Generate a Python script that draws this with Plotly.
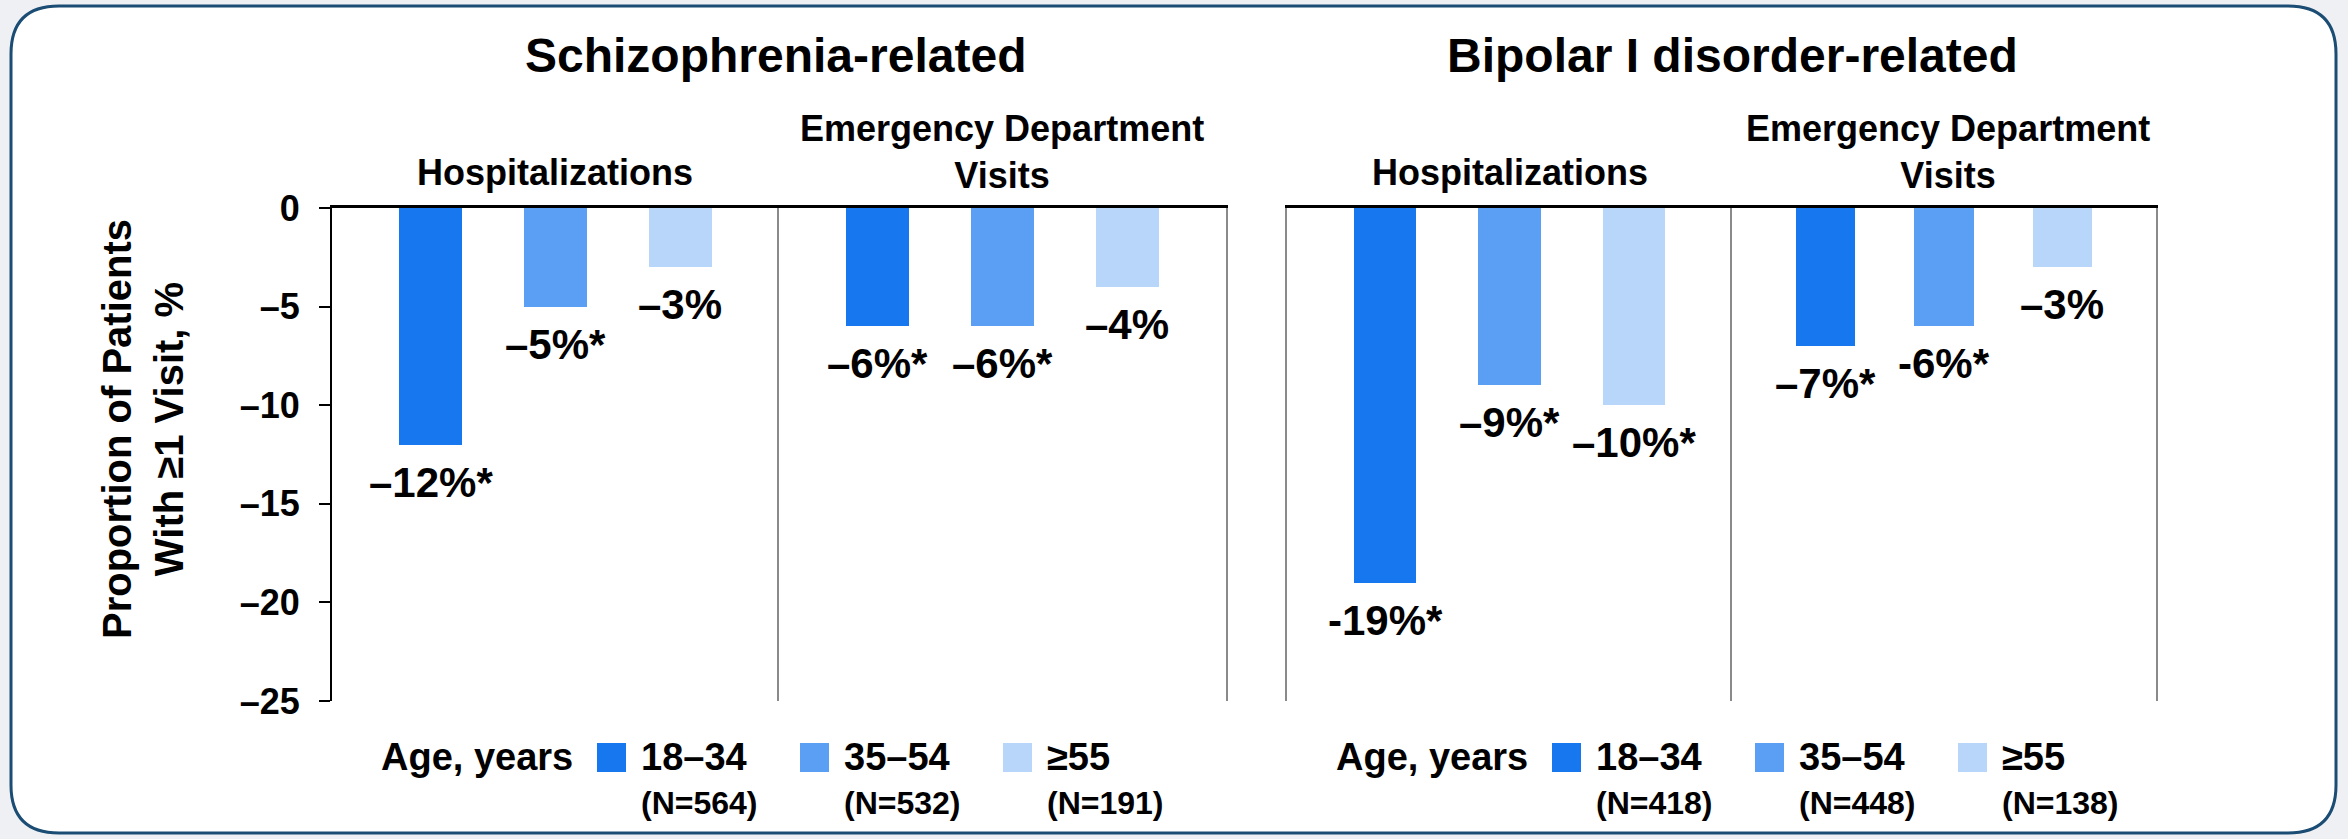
import plotly.graph_objects as go

# figure size in px, paper covers the whole figure (no margins)
W, H = 2348, 839


def fx(p):
    return p / W


def fy(p):
    return 1 - p / H


# ---- data ----
age_groups = ["18–34", "35–54", "≥55"]
bar_colors = ["#1677EF", "#5A9FF4", "#B8D6FA"]

schizo_hosp = [-12, -5, -3]
schizo_ed = [-6, -6, -4]
bipolar_hosp = [-19, -9, -10]
bipolar_ed = [-7, -6, -3]

schizo_hosp_lbl = ["–12%*", "–5%*", "–3%"]
schizo_ed_lbl = ["–6%*", "–6%*", "–4%"]
bipolar_hosp_lbl = ["-19%*", "–9%*", "–10%*"]
bipolar_ed_lbl = ["–7%*", "-6%*", "–3%"]

schizo_n = ["(N=564)", "(N=532)", "(N=191)"]
bipolar_n = ["(N=418)", "(N=448)", "(N=138)"]

y_ticks = [0, -5, -10, -15, -20, -25]
y_ticktext = ["0", "–5", "–10", "–15", "–20", "–25"]

FONT = "Liberation Sans, Arial, sans-serif"

panels = [
    ("x", "y", schizo_hosp, schizo_hosp_lbl, (332, 779)),
    ("x2", "y2", schizo_ed, schizo_ed_lbl, (779, 1226)),
    ("x3", "y3", bipolar_hosp, bipolar_hosp_lbl, (1287, 1732)),
    ("x4", "y4", bipolar_ed, bipolar_ed_lbl, (1732, 2156)),
]

fig = go.Figure()
annotations = []

for xa, ya, vals, lbls, dom in panels:
    fig.add_trace(go.Bar(
        x=age_groups, y=vals, xaxis=xa, yaxis=ya,
        marker=dict(color=bar_colors, line=dict(width=0)),
        width=0.5, showlegend=False, hoverinfo="skip",
    ))
    for g, v, t in zip(age_groups, vals, lbls):
        annotations.append(dict(
            x=g, y=v, xref=xa, yref=ya, text=t, showarrow=False,
            yanchor="top", yshift=-12,
            font=dict(family=FONT, size=42, color="black", weight="bold"),
        ))

y_dom = [fy(701), fy(208)]
x_common = dict(type="category", range=[-0.79, 2.79], side="top", showline=True,
                linecolor="black", linewidth=3, showticklabels=False, ticks="",
                showgrid=False, zeroline=False, fixedrange=True, automargin=False)
y_common = dict(range=[-25, 0], domain=y_dom, showgrid=False, zeroline=False,
                fixedrange=True, automargin=False)

layout_axes = {}
for i, (xa, ya, vals, lbls, dom) in enumerate(panels):
    xk = "xaxis" if i == 0 else "xaxis%d" % (i + 1)
    yk = "yaxis" if i == 0 else "yaxis%d" % (i + 1)
    layout_axes[xk] = dict(x_common, domain=[fx(dom[0]), fx(dom[1])], anchor=ya)
    if i == 0:
        layout_axes[yk] = dict(
            y_common, anchor=xa, showline=True, linecolor="black", linewidth=2,
            tickvals=y_ticks, ticktext=y_ticktext, ticks="outside", ticklen=11,
            tickwidth=2, tickcolor="black", ticklabelstandoff=12,
            tickfont=dict(family=FONT, size=36, color="black", weight="bold"),
        )
    else:
        layout_axes[yk] = dict(
            y_common, anchor=xa, showline=True, linecolor="#8a8a8a", linewidth=2,
            mirror=(i in (1, 3)), showticklabels=False, ticks="",
        )

# titles
title_font = dict(family=FONT, size=48, color="black", weight="bold")
sub_font = dict(family=FONT, size=36, color="black", weight="bold")
annotations += [
    dict(x=fx(775), y=fy(55), text="Schizophrenia-related", font=title_font),
    dict(x=fx(1732), y=fy(55), text="Bipolar I disorder-related", font=title_font),
    dict(x=fx(555), y=fy(172), text="Hospitalizations", font=sub_font),
    dict(x=fx(1002), y=fy(152), text="Emergency Department<br>Visits", font=sub_font),
    dict(x=fx(1510), y=fy(172), text="Hospitalizations", font=sub_font),
    dict(x=fx(1948), y=fy(152), text="Emergency Department<br>Visits", font=sub_font),
    dict(x=fx(143), y=fy(429), text="Proportion of Patients<br>With ≥1 Visit, %",
         textangle=-90, font=dict(family=FONT, size=40, color="black", weight="bold")),
]
for a in annotations[-7:]:
    a.update(xref="paper", yref="paper", showarrow=False, xanchor="center", yanchor="middle")

# custom legends (one under each disorder)
shapes = []
leg_font = dict(family=FONT, size=38, color="black", weight="bold")
n_font = dict(family=FONT, size=32, color="black", weight="bold")
for off, ns in [(0, schizo_n), (955, bipolar_n)]:
    annotations.append(dict(x=fx(379 + off), y=fy(757), xref="paper", yref="paper",
                            text="Age, years", showarrow=False, xanchor="left",
                            yanchor="middle", font=leg_font))
    for k, (g, c, n) in enumerate(zip(age_groups, bar_colors, ns)):
        x0 = 597 + off + 203 * k
        shapes.append(dict(type="rect", xref="paper", yref="paper",
                           x0=fx(x0), x1=fx(x0 + 29), y0=fy(772), y1=fy(743),
                           fillcolor=c, line=dict(width=0)))
        annotations.append(dict(x=fx(x0 + 42), y=fy(757), xref="paper", yref="paper",
                                text=g, showarrow=False, xanchor="left",
                                yanchor="middle", font=leg_font))
        annotations.append(dict(x=fx(x0 + 42), y=fy(803), xref="paper", yref="paper",
                                text=n, showarrow=False, xanchor="left",
                                yanchor="middle", font=n_font))

# rounded frame around the whole slide
L, T, R, B, r = 11, 6, 2336, 833, 48
path = ("M {a},{b} L {c},{b} Q {R},{b} {R},{d} L {R},{e} Q {R},{B} {c},{B} "
        "L {a},{B} Q {L},{B} {L},{e} L {L},{d} Q {L},{b} {a},{b} Z").format(
    a=fx(L + r), b=fy(T), c=fx(R - r), R=fx(R), d=fy(T + r), e=fy(B - r),
    B=fy(B), L=fx(L))
shapes.insert(0, dict(type="path", path=path, xref="paper", yref="paper",
                      fillcolor="white", line=dict(color="#1B4D74", width=3),
                      layer="below"))

fig.update_layout(
    width=W, height=H,
    margin=dict(l=0, r=0, t=0, b=0),
    paper_bgcolor="#eef0f3", plot_bgcolor="rgba(0,0,0,0)",
    template="none", showlegend=False, bargap=0,
    annotations=annotations, shapes=shapes,
    **layout_axes,
)

fig.write_html("out.html", config={"displayModeBar": False},
               post_script="document.body.style.margin='0';")
